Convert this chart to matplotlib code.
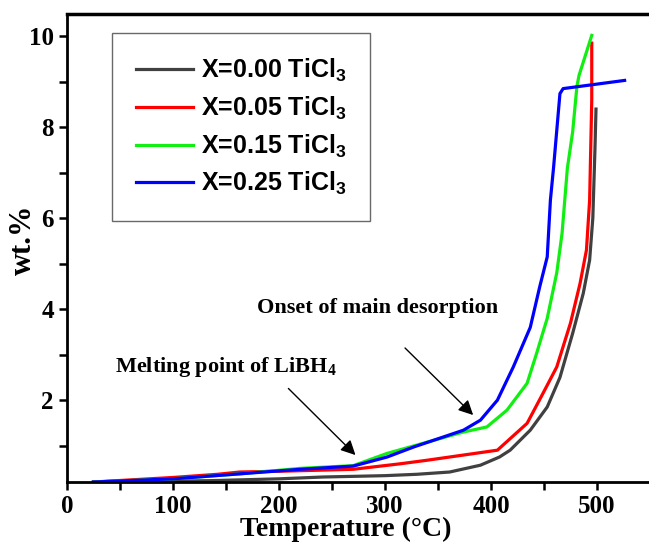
import matplotlib.pyplot as plt
from matplotlib.ticker import MultipleLocator

plt.rcParams['mathtext.fontset'] = 'custom'
plt.rcParams['mathtext.rm'] = 'Liberation Sans:bold'
plt.rcParams['mathtext.bf'] = 'Liberation Serif:bold'

# data (temperature in C, wt.%)
t_000 = [25, 100, 135, 200, 241, 300, 330, 361, 390, 408, 418, 437, 453, 465, 477, 487, 493, 496, 498, 499]
w_000 = [0.2, 0.22, 0.23, 0.27, 0.31, 0.34, 0.37, 0.42, 0.57, 0.75, 0.9, 1.34, 1.85, 2.5, 3.47, 4.35, 5.08, 6.0, 7.5, 8.4]

t_005 = [25, 100, 142, 163, 206, 270, 314, 340, 406, 434, 449, 462, 475, 484, 490, 493, 495, 495]
w_005 = [0.2, 0.3, 0.37, 0.42, 0.44, 0.48, 0.6, 0.68, 0.9, 1.49, 2.15, 2.73, 3.7, 4.57, 5.3, 6.4, 8.6, 9.85]

t_015 = [25, 100, 163, 220, 270, 302, 374, 396, 415, 434, 443, 453, 462, 467, 472, 477, 481, 483, 495]
w_015 = [0.2, 0.27, 0.38, 0.5, 0.56, 0.83, 1.3, 1.41, 1.78, 2.37, 3.03, 3.8, 4.8, 5.67, 7.1, 7.9, 8.9, 9.14, 10.02]

t_025 = [25, 100, 163, 220, 270, 302, 327, 374, 390, 406, 421, 437, 446, 453, 456, 459, 465, 468, 526]
w_025 = [0.2, 0.27, 0.38, 0.48, 0.55, 0.75, 0.97, 1.34, 1.56, 2.0, 2.73, 3.6, 4.5, 5.15, 6.4, 7.12, 8.74, 8.85, 9.03]

labels = ['X=0.00 TiCl$_3$', 'X=0.05 TiCl$_3$', 'X=0.15 TiCl$_3$', 'X=0.25 TiCl$_3$']
colors = ['#404040', '#ff0000', '#11ee11', '#0000ff']

fig = plt.figure(figsize=(6.49, 5.49), dpi=100)
ax = fig.add_axes([0.1032, 0.122, 0.8968, 0.8533])

for t, w, lab, c in zip([t_000, t_005, t_015, t_025], [w_000, w_005, w_015, w_025], labels, colors):
    ax.plot(t, w, color=c, lw=2.3, label=lab)

ax.set_xlim(0, 549)
ax.set_ylim(0.2, 10.5)
ax.xaxis.set_major_locator(MultipleLocator(100))
ax.xaxis.set_minor_locator(MultipleLocator(50))
ax.set_yticks([2, 4, 6, 8, 10])
ax.yaxis.set_minor_locator(MultipleLocator(1))
ax.tick_params(which='both', direction='out', length=6, width=1.8)
ax.spines['right'].set_visible(False)
ax.spines['left'].set_linewidth(2)
ax.spines['bottom'].set_linewidth(2)
ax.spines['top'].set_linewidth(2.5)

serif = dict(family='Liberation Serif', weight='bold')
for lab in ax.get_xticklabels() + ax.get_yticklabels():
    lab.set_fontfamily('Liberation Serif')
    lab.set_fontweight('bold')
    lab.set_fontsize(18)
ax.set_xlabel('Temperature (°C)', fontsize=20, **serif)
ax.xaxis.set_label_coords(0.479, -0.075)
ax.set_ylabel('wt.%', fontsize=22, **serif)
ax.yaxis.set_label_coords(-0.05, 0.517)

leg = ax.legend(loc='upper left', bbox_to_anchor=(0.077, 0.958), borderaxespad=0,
                prop={'family': 'Liberation Sans', 'weight': 'bold', 'size': 18},
                fancybox=False, edgecolor='#444444', handlelength=2.3,
                labelspacing=0.42, borderpad=0.95, handletextpad=0.3)
leg.get_frame().set_linewidth(1)

arrow = dict(arrowstyle='-|>', color='black', lw=1, mutation_scale=22)
ax.annotate('', xy=(274, 0.75), xytext=(207, 2.3), arrowprops=arrow)
ax.annotate('', xy=(385, 1.63), xytext=(317, 3.19), arrowprops=arrow)
ax.text(45, 2.73, r'Melting point of LiBH$\mathbf{_4}$', fontsize=16, va='center', **serif)
ax.text(179, 4.02, 'Onset of main desorption', fontsize=16, va='center', **serif)

fig.savefig('out.png', dpi=100)
